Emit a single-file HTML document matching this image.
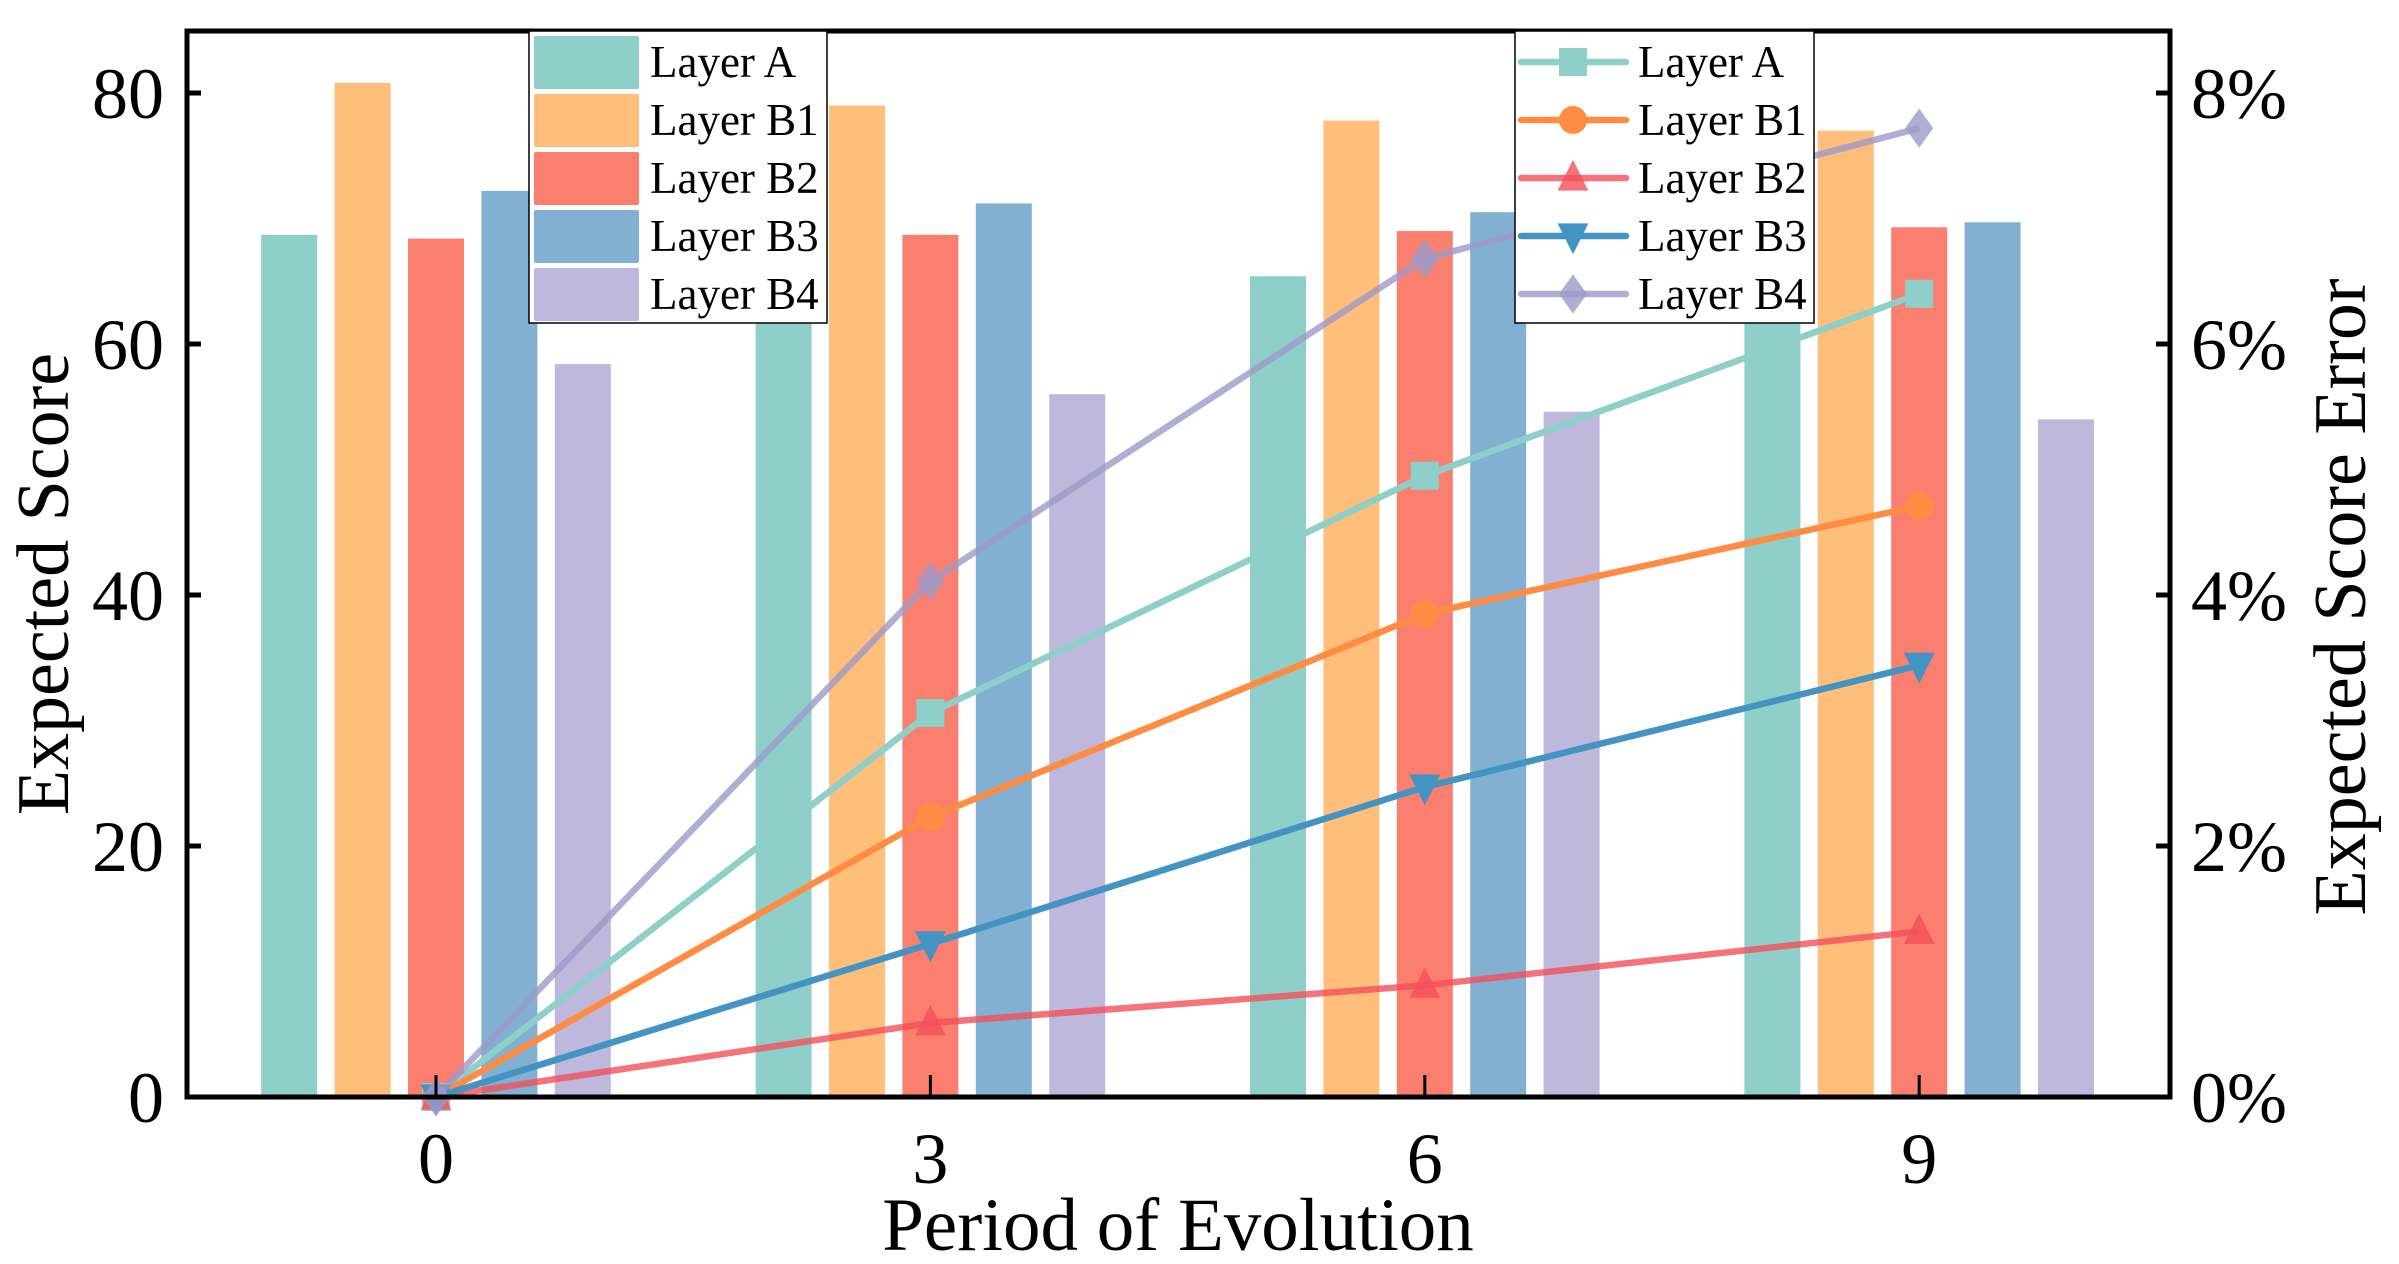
<!DOCTYPE html>
<html><head><meta charset="utf-8"><style>
html,body{margin:0;padding:0;background:#fff;}
svg{display:block;font-family:"Liberation Serif",serif;}
</style></head><body>
<svg id="chart" width="2399" height="1264" viewBox="0 0 2399 1264" xmlns="http://www.w3.org/2000/svg">
<g id="bars"></g>
<g id="lines"></g>
<g id="axes"></g>
<g id="legends"></g>
</svg>
<script>
const periods = [0, 3, 6, 9];
const seriesNames = ["Layer A", "Layer B1", "Layer B2", "Layer B3", "Layer B4"];
const barA = [68.7, 66.0, 65.4, 64.0];
const barB1 = [80.8, 79.0, 77.8, 77.0];
const barB2 = [68.4, 68.7, 69.0, 69.3];
const barB3 = [72.2, 71.2, 70.5, 69.7];
const barB4 = [58.4, 56.0, 54.6, 54.0];
const errA = [0, 3.06, 4.95, 6.40];
const errB1 = [0, 2.23, 3.85, 4.71];
const errB2 = [0, 0.59, 0.89, 1.32];
const errB3 = [0, 1.22, 2.47, 3.44];
const errB4 = [0, 4.11, 6.68, 7.72];
const leftTicks = [0, 20, 40, 60, 80];
const rightTicks = [0, 2, 4, 6, 8];

const NS = "http://www.w3.org/2000/svg";
const L = 187, R = 2170, T = 31, B = 1097;
const X0 = 436, XU = 164.8;
const Y0 = 1097, YU = 12.55;
const xs = v => X0 + v * XU;
const yl = v => Y0 - v * YU;
const yr = v => Y0 - v * 125.5;
const barColors = ["#8ECFC9", "#FFBE7A", "#FA7F6F", "#82B0D2", "#BEB8DC"];
const lineColors = ["#8ECFC9", "#FF8C42", "#F4505A", "#4393C3", "#9E9AC8"];
const lineOps = [1, 1, 0.8, 1, 0.8];
const markers = ["square", "circle", "tri", "tridown", "diamond"];
const barSeries = [barA, barB1, barB2, barB3, barB4];
const errSeries = [errA, errB1, errB2, errB3, errB4];
const MS = 28;

function mk(tag, attrs, parent) {
  const e = document.createElementNS(NS, tag);
  for (const k in attrs) e.setAttribute(k, attrs[k]);
  parent.appendChild(e);
  return e;
}
function marker(kind, cx, cy, s, fill, parent, op) {
  let e;
  if (kind === "square") e = mk("rect", {x: cx - s/2, y: cy - s/2, width: s, height: s, fill: fill}, parent);
  else if (kind === "circle") e = mk("circle", {cx: cx, cy: cy, r: s/2, fill: fill}, parent);
  else if (kind === "tri") e = mk("polygon", {points: `${cx},${cy - s*0.65} ${cx - s*0.55},${cy + s*0.45} ${cx + s*0.55},${cy + s*0.45}`, fill: fill}, parent);
  else if (kind === "tridown") e = mk("polygon", {points: `${cx},${cy + s*0.65} ${cx - s*0.55},${cy - s*0.45} ${cx + s*0.55},${cy - s*0.45}`, fill: fill}, parent);
  else e = mk("polygon", {points: `${cx},${cy - s*0.7} ${cx + s*0.5},${cy} ${cx},${cy + s*0.7} ${cx - s*0.5},${cy}`, fill: fill}, parent);
  e.setAttribute("opacity", op);
  return e;
}

const gb = document.getElementById("bars");
const gl = document.getElementById("lines");
const ga = document.getElementById("axes");
const gg = document.getElementById("legends");

barSeries.forEach((ser, si) => {
  ser.forEach((v, i) => {
    const cx = xs(periods[i]) + (si - 2) * 73.4;
    const r = mk("rect", {x: cx - 28, y: yl(v), width: 56, height: Y0 - yl(v), fill: barColors[si]}, gb);
    
    
  });
});

errSeries.forEach((ser, si) => {
  const pts = ser.map((v, i) => xs(periods[i]) + "," + yr(v)).join(" ");
  const pl = mk("polyline", {points: pts, fill: "none", stroke: lineColors[si], "stroke-width": 6.5, "stroke-opacity": lineOps[si], "stroke-linejoin": "round"}, gl);
  
  
  ser.forEach((v, i) => {
    const m = marker(markers[si], xs(periods[i]), yr(v), MS, lineColors[si], gl, lineOps[si]);
    
    
  });
});

const frame = mk("rect", {x: L, y: T, width: R - L, height: B - T, fill: "none", stroke: "#000", "stroke-width": 5}, ga);



leftTicks.forEach(v => {
  const y = yl(v);
  mk("line", {x1: L, x2: L + 14, y1: y, y2: y, stroke: "#000", "stroke-width": 5}, ga);
  const t = mk("text", {x: 164, y: y + 25, "text-anchor": "end", "font-size": 72}, ga);
  t.textContent = v;
  
  
});
rightTicks.forEach(v => {
  const y = yr(v);
  mk("line", {x1: R - 14, x2: R, y1: y, y2: y, stroke: "#000", "stroke-width": 5}, ga);
  const t = mk("text", {x: 2191, y: y + 25, "text-anchor": "start", "font-size": 72}, ga);
  t.textContent = v + "%";
  
  
});
periods.forEach(p => {
  const x = xs(p);
  mk("line", {x1: x, x2: x, y1: B, y2: B - 22, stroke: "#000", "stroke-width": 3}, ga);
  const t = mk("text", {x: x, y: 1183, "text-anchor": "middle", "font-size": 72}, ga);
  t.textContent = p;
  
  
});
const xt = mk("text", {x: 1178, y: 1250, "text-anchor": "middle", "font-size": 75}, ga);
xt.textContent = "Period of Evolution";


const ylt = mk("text", {x: 0, y: 0, "text-anchor": "middle", "font-size": 74, transform: "translate(68,584) rotate(-90)"}, ga);
ylt.textContent = "Expected Score";


const yrt = mk("text", {x: 0, y: 0, "text-anchor": "middle", "font-size": 74, transform: "translate(2365,597) rotate(-90)"}, ga);
yrt.textContent = "Expected Score Error";



const lb = mk("rect", {x: 529, y: 31, width: 298, height: 292, fill: "#fff", stroke: "#000", "stroke-width": 1.5}, gg);


const rb = mk("rect", {x: 1515, y: 31, width: 299, height: 292, fill: "#fff", stroke: "#000", "stroke-width": 1.5}, gg);


seriesNames.forEach((n, i) => {
  const cy = 62 + i * 58;
  const p = mk("rect", {x: 534, y: cy - 26, width: 105, height: 53, rx: 2, fill: barColors[i]}, gg);
  
  
  const t = mk("text", {x: 650, y: cy + 15, "font-size": 45}, gg);
  t.textContent = n;
  
  
  const ln = mk("line", {x1: 1521, x2: 1626, y1: cy, y2: cy, stroke: lineColors[i], "stroke-width": 6.5, "stroke-opacity": lineOps[i], "stroke-linecap": "round"}, gg);
  
  
  marker(markers[i], 1573, cy, MS, lineColors[i], gg, lineOps[i]);
  const t2 = mk("text", {x: 1638, y: cy + 15, "font-size": 45}, gg);
  t2.textContent = n;
  
  
});
</script>
</body></html>
